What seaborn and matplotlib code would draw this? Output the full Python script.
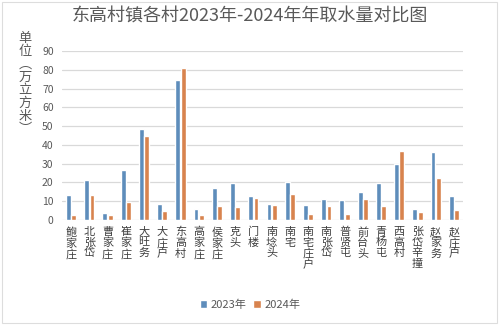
import matplotlib
matplotlib.use("Agg")
import matplotlib.pyplot as plt
import seaborn as sns
import pandas as pd
from matplotlib.patches import Rectangle, Patch

villages = ["鲍家庄", "北张岱", "曹家庄", "崔家庄", "大旺务", "大庄户", "东高村", "高家庄",
            "侯家庄", "克头", "门楼", "南埝头", "南宅", "南宅庄户", "南张岱", "普贤屯",
            "前台头", "青杨屯", "西高村", "张岱辛撞", "赵家务", "赵庄户"]
water_2023 = [13.5, 21.3, 3.7, 26.6, 48.4, 8.5, 74.5, 5.9,
              16.8, 19.5, 12.8, 8.5, 20.0, 8.0, 11.2, 10.6,
              14.9, 19.5, 30.1, 5.9, 36.2, 12.8]
water_2024 = [2.7, 13.3, 2.7, 9.6, 45.0, 4.8, 80.9, 2.7,
              7.4, 7.1, 11.9, 8.0, 13.8, 3.4, 7.6, 3.4,
              11.3, 7.6, 36.9, 4.3, 22.3, 5.3]
years = ["2023年", "2024年"]
y_ticks = [0, 10, 20, 30, 40, 50, 60, 70, 80, 90]

df = pd.DataFrame({
    "村": villages * 2,
    "年份": [years[0]] * len(villages) + [years[1]] * len(villages),
    "取水量": water_2023 + water_2024,
})

sns.set_theme(style="white")
plt.rcParams["font.family"] = ["Noto Sans CJK SC", "DejaVu Sans"]

blue = "#5E8DBB"
orange = "#D8834E"
text_gray = "#595959"

fig = plt.figure(figsize=(5, 3.25), dpi=100)
ax = fig.add_axes([0.124, 0.323, 0.802, 0.520])

sns.barplot(data=df, x="村", y="取水量", hue="年份", palette=[blue, orange],
            width=0.58, gap=0.08, ax=ax, legend=False, saturation=1)

ax.set_ylim(0, 90)
ax.set_xlim(-0.5, len(villages) - 0.5)
ax.set_yticks(y_ticks)
ax.set_yticklabels([str(t) for t in y_ticks], fontsize=7.5, color=text_gray)
ax.set_xticks(range(len(villages)))
ax.set_xticklabels(["\n".join(v) for v in villages], fontsize=8, color="#404040",
                   linespacing=1.05, va="top")
ax.tick_params(axis="x", length=0, pad=5)
ax.tick_params(axis="y", length=0, pad=6)
ax.yaxis.grid(True, color="#d9d9d9", linewidth=0.9)
ax.set_axisbelow(True)
for s in ax.spines.values():
    s.set_visible(False)
ax.set_xlabel("")
ax.set_ylabel("")

fig.text(0.5, 0.95, "东高村镇各村2023年-2024年年取水量对比图", ha="center", va="center",
         fontsize=13, color=text_gray)

fig.text(0.05, 0.902, "\n".join(["单", "位", "︵", "万", "立", "方", "米", "︶"]),
         ha="center", va="top", fontsize=9.5, color=text_gray, linespacing=1.0)

handles = [Patch(facecolor=blue, label=years[0]), Patch(facecolor=orange, label=years[1])]
fig.legend(handles=handles, loc="center", bbox_to_anchor=(0.5, 0.062), ncol=2,
           frameon=False, fontsize=8, handlelength=0.7, handleheight=0.7,
           handletextpad=0.3, columnspacing=0.6, labelcolor=text_gray)

fig.patches.append(Rectangle((0.004, 0.005), 0.99, 0.99, transform=fig.transFigure,
                             fill=False, edgecolor="#dddddd", linewidth=0.8))

fig.savefig("out.png", dpi=100, facecolor="white")
